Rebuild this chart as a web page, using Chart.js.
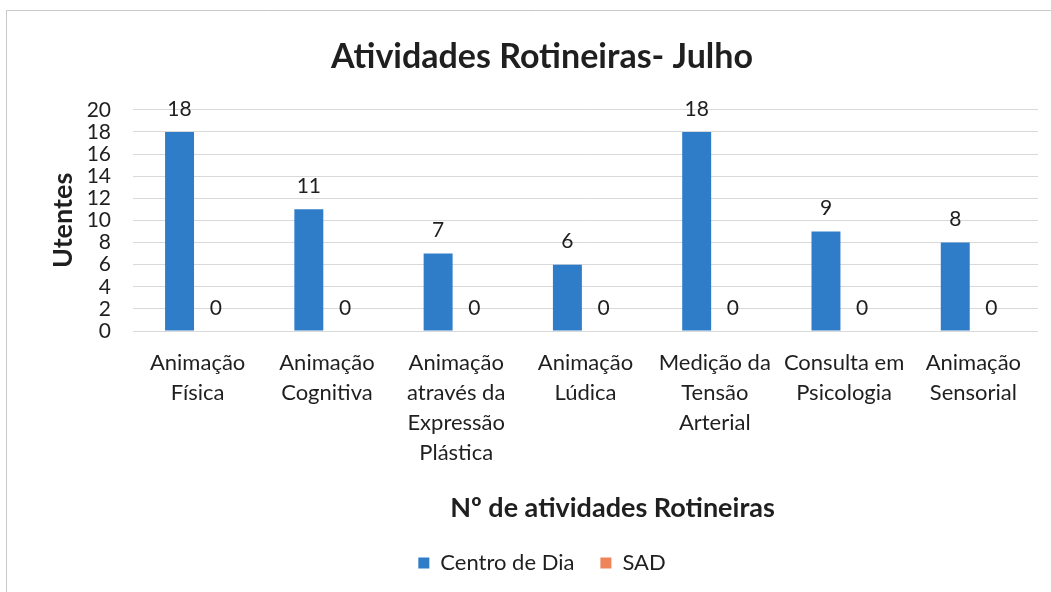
<!DOCTYPE html>
<html><head><meta charset="utf-8">
<script src="https://cdn.jsdelivr.net/npm/chart.js@4/dist/chart.umd.min.js"></script>
<style>body{margin:0;background:#fff}canvas{display:block}</style>
</head><body><canvas id="c" width="1051" height="592"></canvas>
<script>
const categories = [
  ['Animação','Física'],
  ['Animação','Cognitiva'],
  ['Animação','através da','Expressão','Plástica'],
  ['Animação','Lúdica'],
  ['Medição da','Tensão','Arterial'],
  ['Consulta em','Psicologia'],
  ['Animação','Sensorial']
];
const centroDeDia = [18, 11, 7, 6, 18, 9, 8];
const sad = [0, 0, 0, 0, 0, 0, 0];
const seriesNames = ['Centro de Dia', 'SAD'];
const yTickValues = [0, 2, 4, 6, 8, 10, 12, 14, 16, 18, 20];
const chartTitle = 'Atividades Rotineiras- Julho';
const xTitle = 'Nº de atividades Rotineiras';
const yTitle = 'Utentes';

const FONT = 'Lato, "Noto Sans", sans-serif';
const TEXT = '#1f1f1f';

const framePlugin = {
  id: 'frame',
  beforeDraw(chart) {
    const ctx = chart.ctx;
    ctx.save();
    ctx.fillStyle = '#fff';
    ctx.fillRect(0, 0, chart.width, chart.height);
    ctx.strokeStyle = '#c8c8c8';
    ctx.lineWidth = 1;
    ctx.beginPath();
    ctx.moveTo(6.5, chart.height);
    ctx.lineTo(6.5, 10.5);
    ctx.lineTo(chart.width, 10.5);
    ctx.stroke();
    ctx.restore();
  }
};

const labelPlugin = {
  id: 'valueLabels',
  afterDatasetsDraw(chart) {
    const ctx = chart.ctx;
    ctx.save();
    ctx.font = '21px ' + FONT;
    ctx.fillStyle = TEXT;
    ctx.textAlign = 'center';
    ctx.textBaseline = 'middle';
    chart.data.datasets.forEach((ds, i) => {
      chart.getDatasetMeta(i).data.forEach((bar, j) => {
        ctx.fillText(String(ds.data[j]), bar.x, bar.y - 23);
      });
    });
    const ca = chart.chartArea;
    ctx.font = 'bold 27px ' + FONT;
    ctx.fillText(xTitle, (ca.left + ca.right) / 2 + 27, 508);
    ctx.restore();
  }
};

new Chart(document.getElementById('c'), {
  type: 'bar',
  data: {
    labels: categories,
    datasets: [
      { label: seriesNames[0], data: centroDeDia, backgroundColor: '#2f7cc9',
        categoryPercentage: 0.56, barPercentage: 0.8 },
      { label: seriesNames[1], data: sad, backgroundColor: '#ee8458',
        categoryPercentage: 0.56, barPercentage: 0.8 }
    ]
  },
  options: {
    responsive: false,
    animation: false,
    layout: { padding: { left: 46, right: 13, top: 0, bottom: 8 } },
    plugins: {
      title: {
        display: true, text: chartTitle, color: TEXT,
        font: { family: FONT, size: 34, weight: 'bold', lineHeight: 1.2 },
        padding: { top: 37, bottom: 32 }
      },
      legend: {
        position: 'bottom',
        labels: {
          color: TEXT, boxWidth: 11, boxHeight: 11, padding: 26,
          font: { family: FONT, size: 22 }
        }
      },
      tooltip: { enabled: false }
    },
    scales: {
      x: {
        grid: { display: false, drawTicks: false },
        border: { display: false },
        ticks: { color: TEXT, padding: 17, maxRotation: 0, autoSkip: false,
          font: { family: FONT, size: 22, lineHeight: 1.36 } },
        afterFit(scale) { scale.height = 195; }
      },
      y: {
        min: 0, max: 20,
        afterBuildTicks(scale) { scale.ticks = yTickValues.map(v => ({ value: v })); },
        grid: { color: '#d9d9d9', drawTicks: false },
        border: { display: false },
        ticks: { color: TEXT, padding: 22, autoSkip: false, font: { family: FONT, size: 21 } },
        title: { display: true, text: yTitle, color: TEXT,
          font: { family: FONT, size: 27, weight: 'bold', lineHeight: 1.2 }, padding: { top: 1, bottom: 0 } },
        afterFit(scale) { scale.width = 87; }
      }
    }
  },
  plugins: [framePlugin, labelPlugin]
});
</script></body></html>
